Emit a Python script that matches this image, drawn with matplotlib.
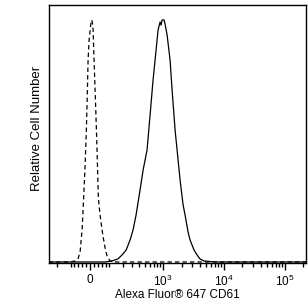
import numpy as np
import matplotlib
matplotlib.use("Agg")
import matplotlib.pyplot as plt
from matplotlib.ticker import FixedLocator, NullLocator

plt.rcParams['font.family'] = ['Liberation Sans', 'DejaVu Sans']

# isotype control (dashed): fluorescence value, relative count (% of axis height)
iso_x = [-290, -105, -76, -60, -49, -39, -32, -24, -19, -14, -9.6, -4.8, 1.4, 4.8, 8.1,
         12, 14.4, 16.8, 21.6, 26.6, 31.5, 36.5, 40.4, 49, 58, 65, 76, 87, 105, 139, 2.3e5]
iso_y = [0.4, 0.4, 0.8, 1.6, 4.3, 12.8, 23.6, 38, 48.8, 63.2, 78.7, 86.4, 91.1, 93.4, 94.2,
         92.6, 90.3, 84.5, 72.9, 61.2, 49.6, 36, 25.2, 18.6, 13.6, 10.1, 5.8, 2.7, 0.8, 0.4, 0.4]

# CD61 stained (solid)
cd61_x = [-290, 76, 118, 160, 193, 231, 273, 309, 349, 409, 461, 538, 605, 678, 762, 822,
          887, 922, 957, 1033, 1073, 1159, 1297, 1400, 1568, 1692, 1895, 2125, 2288, 2564,
          2764, 3216, 3603, 4037, 4693, 7110, 2.3e5]
cd61_y = [0.4, 0.4, 0.8, 1.6, 3.1, 5.0, 8.9, 12.8, 18.6, 28.3, 36.0, 43.8, 57.4, 70.9, 82.6, 90.3,
          93.4, 92.2, 94.2, 94.2, 92.6, 88.4, 78.7, 67.1, 51.6, 43.8, 32.2, 22.5, 18.6, 12.0,
          8.9, 5.0, 3.1, 1.55, 0.78, 0.4, 0.4]

major_ticks = [0, 1e3, 1e4, 1e5]
major_labels = ['0', r'$\mathregular{10^3}$', r'$\mathregular{10^4}$', r'$\mathregular{10^5}$']

W = 127.0
def fwd(x):
    return np.arcsinh(np.asarray(x, dtype=float) / W) / np.log(10)
def inv(y):
    return W * np.sinh(np.asarray(y, dtype=float) * np.log(10))

fig = plt.figure(figsize=(3.08, 3.06), dpi=100)
ax = fig.add_axes([49/308, 43/306, 257/308, 258/306])
ax.set_xscale('function', functions=(fwd, inv))

ax.plot(iso_x, iso_y, color='black', lw=0.9, dashes=(3.5, 2.5))
ax.plot(cd61_x, cd61_y, color='black', lw=0.9)

ax.set_xlim(-286, 2.2e5)
ax.set_ylim(0, 100)

minor = []
for s in (-1, 1):
    minor += [s * v for v in range(20, 100, 20)]
    minor += [s * v for v in range(100, 1000, 100)]
minor += [v * m for m in (1e3, 1e4, 1e5) for v in range(2, 10)]
minor = [m for m in minor if -286 < m < 2.2e5]
ax.xaxis.set_major_locator(FixedLocator(major_ticks))
ax.set_xticklabels(major_labels)
ax.xaxis.set_minor_locator(FixedLocator(minor))
ax.tick_params(axis='x', which='major', length=5, width=1, pad=3, labelsize=8.5, direction='out')
ax.tick_params(axis='x', which='minor', length=3, width=1, direction='out')
ax.yaxis.set_major_locator(NullLocator())
ax.yaxis.set_minor_locator(NullLocator())

for sp in ax.spines.values():
    sp.set_linewidth(1)

ax.set_xlabel('Alexa Fluor® 647 CD61', fontsize=8.5, va='top')
ax.xaxis.set_label_coords(0.5, -0.102)
ax.set_ylabel('Relative Cell Number', fontsize=9.5, va='center')
ax.yaxis.set_label_coords(-0.047, 0.523)

fig.savefig('out.png', dpi=100)
